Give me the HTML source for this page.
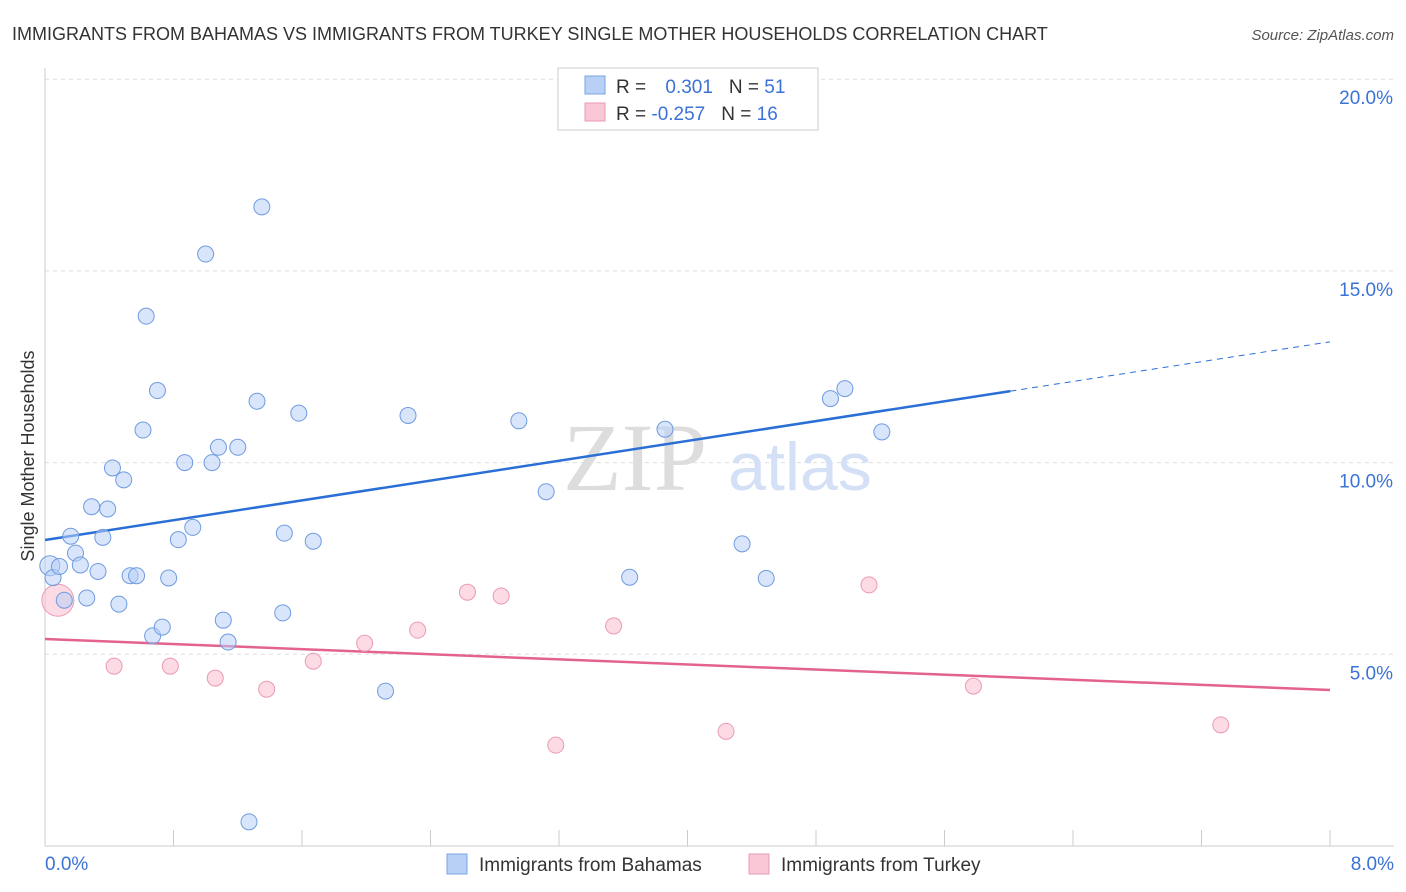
<!DOCTYPE html>
<html><head><meta charset="utf-8"><style>
body{margin:0;background:#fff;font-family:"Liberation Sans",sans-serif}
svg{display:block}
</style></head><body>
<svg id="chart" width="1406" height="892">
<text x="12" y="40" font-size="18" fill="#333">IMMIGRANTS FROM BAHAMAS VS IMMIGRANTS FROM TURKEY SINGLE MOTHER HOUSEHOLDS CORRELATION CHART</text>
<text x="1394" y="40" font-size="15" fill="#555" font-style="italic" text-anchor="end">Source: ZipAtlas.com</text>
<text transform="translate(34,456) rotate(-90)" font-size="18" fill="#333" text-anchor="middle">Single Mother Households</text>
<g id="grid"></g>
<g id="wm"><text x="635" y="490" font-size="96" font-family="Liberation Serif" fill="#ddd" text-anchor="middle">ZIP</text><text x="800" y="490" font-size="68" fill="#d3e0f5" text-anchor="middle">atlas</text></g>
<g id="lines"></g>
<g id="pts"></g>
<g>
<rect x="558" y="68" width="260" height="62" fill="#fff" stroke="#ccc"/>
<rect x="585" y="76" width="20" height="18" fill="#b8d0f5" stroke="#7aa3e5"/>
<rect x="585" y="103" width="20" height="18" fill="#f9c7d5" stroke="#eb9ab3"/>
<text x="616" y="93" font-size="19" fill="#333">R = <tspan fill="#3b72d6" dx="14">0.301</tspan><tspan dx="16" fill="#333">N = </tspan><tspan fill="#3b72d6">51</tspan></text>
<text x="616" y="120" font-size="19" fill="#333">R = <tspan fill="#3b72d6">-0.257</tspan><tspan dx="16" fill="#333">N = </tspan><tspan fill="#3b72d6">16</tspan></text>
</g>
<g>
<rect x="447" y="854" width="20" height="20" fill="#b8d0f5" stroke="#7aa3e5"/>
<text x="479" y="871" font-size="19" fill="#333">Immigrants from Bahamas</text>
<rect x="749" y="854" width="20" height="20" fill="#f9c7d5" stroke="#eb9ab3"/>
<text x="781" y="871" font-size="19" fill="#333">Immigrants from Turkey</text>
</g>
</svg>
<script>
const bahamasX=[0.03,0.05,0.09,0.12,0.16,0.19,0.22,0.26,0.29,0.33,0.36,0.39,0.42,0.46,0.49,0.53,0.57,0.61,0.63,0.67,0.70,0.73,0.77,0.83,0.87,0.92,1.00,1.04,1.08,1.11,1.14,1.20,1.27,1.32,1.35,1.48,1.49,1.58,1.67,2.12,2.26,2.95,3.12,3.64,3.86,4.14,4.34,4.49,4.89,4.98,5.21];
const bahamasY=[7.31,7.0,7.29,6.41,8.08,7.64,7.33,6.47,8.85,7.16,8.05,8.79,9.86,6.31,9.55,7.05,7.05,10.85,13.82,5.48,11.88,5.71,6.99,7.99,10.0,8.31,15.44,10.0,10.4,5.89,5.32,10.4,0.63,11.6,16.67,6.08,8.16,11.29,7.95,4.04,11.23,11.09,9.24,7.01,10.87,19.06,7.88,6.98,11.67,11.93,10.8];
const turkeyX=[0.08,0.43,0.78,1.06,1.38,1.67,1.99,2.32,2.63,2.84,3.18,3.54,4.24,5.13,5.78,7.32];
const turkeyY=[6.41,4.69,4.69,4.38,4.09,4.82,5.29,5.63,6.62,6.52,2.63,5.74,2.99,6.81,4.17,3.16];
const yTicks=[5,10,15,20];
const xTickLabels=["0.0%","8.0%"];
const trendB=[7.98,13.15], trendT=[5.40,4.07], solidEnd=6.01;
const NS="http://www.w3.org/2000/svg";
const X=v=>45+v/8*1285, Y=v=>846-v*38.34;
const svg=document.getElementById('chart');
function mk(t,a,p){const e=document.createElementNS(NS,t);for(const k in a)e.setAttribute(k,a[k]);(p||svg).appendChild(e);return e;}
const grid=document.getElementById('grid');
yTicks.forEach(t=>{
 const l=mk('line',{x1:45,x2:1394,y1:Y(t),y2:Y(t),stroke:'#ddd','stroke-dasharray':'4,4'},grid);
 
 
 const tx=mk('text',{x:1393,y:Y(t)+25,'font-size':19,fill:'#3b72d6','text-anchor':'end'},grid);tx.textContent=t.toFixed(1)+'%';
 
 
});
const ax=mk('line',{x1:45,x2:45,y1:68,y2:846,stroke:'#ccc'},grid);


const bx=mk('line',{x1:45,x2:1394,y1:846,y2:846,stroke:'#ccc'},grid);


for(let i=0;i<=10;i++){const t=mk('line',{x1:X(i*0.8),x2:X(i*0.8),y1:830,y2:846,stroke:'#ccc'},grid);
 
 }
[[0,'start',45],[8,'end',1394]].forEach((d,i)=>{const t=mk('text',{x:d[2],y:870,'font-size':19,fill:'#3b72d6','text-anchor':d[1]},grid);t.textContent=xTickLabels[i];
 
 });
const lines=document.getElementById('lines');
const by=x=>trendB[0]+(trendB[1]-trendB[0])*x/8;
let l1=mk('line',{x1:X(0),y1:Y(by(0)),x2:X(solidEnd),y2:Y(by(solidEnd)),stroke:'#2a6fd6','stroke-width':2.5},lines);


let l2=mk('line',{x1:X(solidEnd),y1:Y(by(solidEnd)),x2:X(8),y2:Y(by(8)),stroke:'#2a6fd6','stroke-width':1,'stroke-dasharray':'6,5'},lines);


let l3=mk('line',{x1:X(0),y1:Y(trendT[0]),x2:X(8),y2:Y(trendT[1]),stroke:'#e3628e','stroke-width':2.5},lines);


const pts=document.getElementById('pts');
turkeyX.forEach((x,i)=>{const c=mk('circle',{cx:X(x),cy:Y(turkeyY[i]),r:i==0?16:8,fill:'rgba(249,190,208,0.55)',stroke:'#eb9ab3'},pts);
 
 });
bahamasX.forEach((x,i)=>{const c=mk('circle',{cx:X(x),cy:Y(bahamasY[i]),r:i==0?10:8,fill:'rgba(184,208,245,0.55)',stroke:'#6f9be0'},pts);
 
 });
</script>
</body></html>
